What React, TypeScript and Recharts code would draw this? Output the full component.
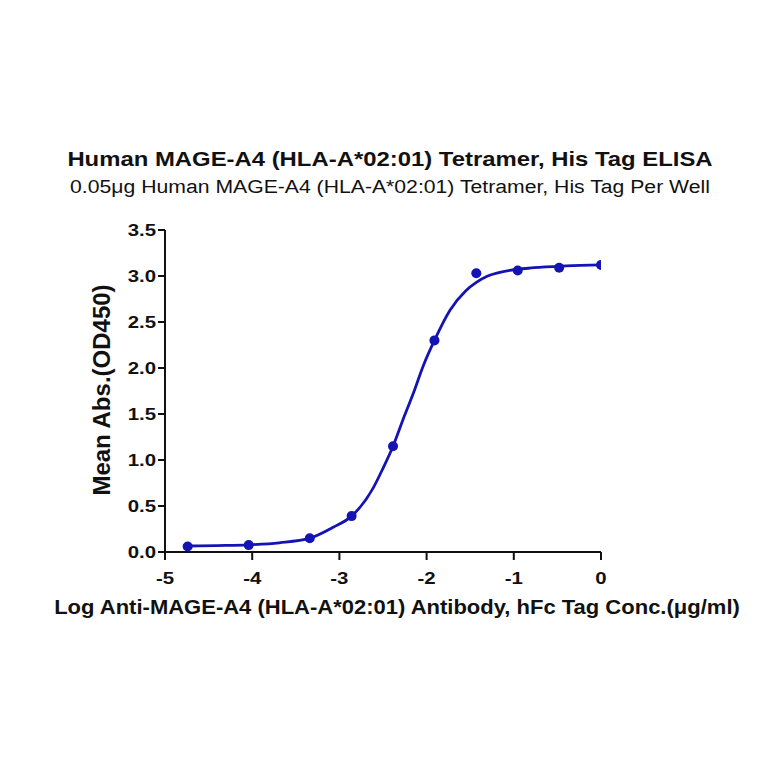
import { ComposedChart, Line, Scatter, XAxis, YAxis } from "recharts";

// measured points (log conc vs mean OD450)
const logConc = [-4.74, -4.04, -3.34, -2.86, -2.385, -1.91, -1.43, -0.955, -0.48, 0];
const meanAbs = [0.06, 0.075, 0.15, 0.39, 1.15, 2.3, 3.03, 3.06, 3.09, 3.12];

// fitted curve
const fitX = [-4.74, -4.4, -4.04, -3.69, -3.34, -3.07, -2.86, -2.61, -2.5, -2.385, -2.27, -2.15, -2.04, -1.91, -1.73, -1.55, -1.43, -1.3, -1.16, -0.77, -0.4, 0];
const fitY = [0.065, 0.07, 0.078, 0.1, 0.15, 0.27, 0.39, 0.7, 0.91, 1.15, 1.44, 1.73, 2.02, 2.3, 2.63, 2.84, 2.93, 3.0, 3.04, 3.09, 3.11, 3.12];

const xTicks = [-5, -4, -3, -2, -1, 0];
const yTicks = [0, 0.5, 1, 1.5, 2, 2.5, 3, 3.5];

const title = "Human MAGE-A4 (HLA-A*02:01) Tetramer, His Tag ELISA";
const subtitle = "0.05μg Human MAGE-A4 (HLA-A*02:01) Tetramer, His Tag Per Well";
const xLabel = "Log Anti-MAGE-A4 (HLA-A*02:01) Antibody, hFc Tag Conc.(μg/ml)";
const yLabel = "Mean Abs.(OD450)";

const points = logConc.map((x, i) => ({ x, y: meanAbs[i] }));
const fit = fitX.map((x, i) => ({ x, y: fitY[i] }));

const FONT = "'Liberation Sans', Arial, sans-serif";
const SX = 1.2;
const BLUE = "#1414b4";

function XTick({ x, y, payload }: any) {
  return (
    <text
      transform={`translate(${x} ${y + 22}) scale(${SX} 1)`}
      textAnchor="middle"
      fontFamily={FONT}
      fontWeight="bold"
      fontSize={17}
      fill="#111"
    >
      {payload.value}
    </text>
  );
}

function YTick({ x, y, payload }: any) {
  return (
    <text
      transform={`translate(${x} ${y + 6}) scale(${SX} 1)`}
      textAnchor="end"
      fontFamily={FONT}
      fontWeight="bold"
      fontSize={17}
      fill="#111"
    >
      {Number(payload.value).toFixed(1)}
    </text>
  );
}

function Dot({ cx, cy }: any) {
  return <circle cx={cx} cy={cy} r={5} fill={BLUE} />;
}

const textBase: React.CSSProperties = {
  position: "absolute",
  fontFamily: FONT,
  color: "#111",
  whiteSpace: "nowrap",
  lineHeight: "normal",
};

export default function App() {
  return (
    <div style={{ position: "absolute", left: 0, top: 0, width: 764, height: 764, background: "#fff" }}>
      <div
        style={{
          ...textBase,
          left: 390,
          top: 147,
          fontSize: 21,
          fontWeight: "bold",
          transform: "translateX(-50%) scaleX(1.137)",
        }}
      >
        {title}
      </div>
      <div
        style={{
          ...textBase,
          left: 390,
          top: 177,
          fontSize: 18,
          transform: "translateX(-50%) scaleX(1.177)",
        }}
      >
        {subtitle}
      </div>
      <div
        style={{
          ...textBase,
          left: 397,
          top: 596,
          fontSize: 20,
          fontWeight: "bold",
          transform: "translateX(-50%) scaleX(1.1)",
        }}
      >
        {xLabel}
      </div>
      <div
        style={{
          ...textBase,
          left: 102,
          top: 390,
          fontSize: 24,
          fontWeight: "bold",
          transform: "translate(-50%, -50%) rotate(-90deg)",
        }}
      >
        {yLabel}
      </div>
      <ComposedChart
        width={764}
        height={764}
        margin={{ top: 230, right: 163, bottom: 172, left: 105 }}
        style={{ position: "absolute", left: 0, top: 0 }}
      >
        <XAxis
          type="number"
          dataKey="x"
          domain={[-5, 0]}
          ticks={xTicks}
          allowDataOverflow
          height={40}
          tick={<XTick />}
          tickSize={8}
          axisLine={{ stroke: "#111", strokeWidth: 2 }}
          tickLine={{ stroke: "#111", strokeWidth: 2 }}
        />
        <YAxis
          type="number"
          dataKey="y"
          domain={[0, 3.5]}
          ticks={yTicks}
          width={60}
          tick={<YTick />}
          tickSize={7}
          axisLine={{ stroke: "#111", strokeWidth: 2 }}
          tickLine={{ stroke: "#111", strokeWidth: 2 }}
        />
        <Line
          data={fit}
          dataKey="y"
          type="monotone"
          stroke={BLUE}
          strokeWidth={2.8}
          dot={false}
          isAnimationActive={false}
        />
        <Scatter data={points} dataKey="y" fill={BLUE} shape={<Dot />} isAnimationActive={false} />
      </ComposedChart>
    </div>
  );
}
